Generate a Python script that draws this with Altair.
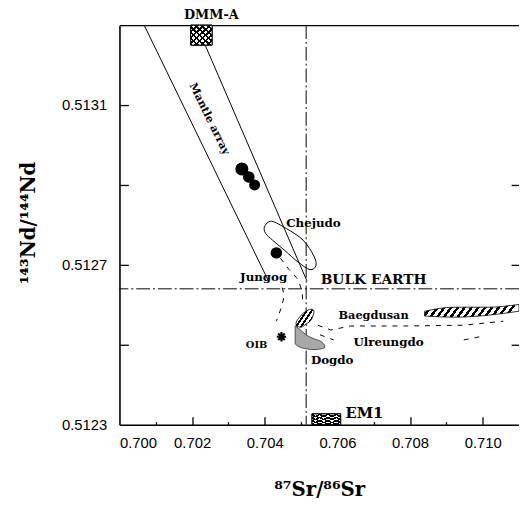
import altair as alt
import pandas as pd

# ---------------- data ----------------
x_label_values = [0.700, 0.702, 0.704, 0.706, 0.708, 0.710]
x_major_ticks = [0.702, 0.704, 0.706, 0.708, 0.710]
x_minor_ticks = [0.701, 0.703, 0.705, 0.707, 0.709]
y_label_values = [0.5123, 0.5127, 0.5131]
y_ticks_left = [0.5125, 0.5127, 0.5129, 0.5131]
y_ticks_right = [0.5125, 0.5127, 0.5129]

# mantle array boundaries
mantle_side = ["left", "left", "right", "right"]
mantle_sr = [0.70068, 0.70410, 0.70236, 0.70516]
mantle_nd = [0.51330, 0.51266, 0.51325, 0.51266]

# bulk earth reference lines
bulk_sr = [0.70514]
bulk_nd = [0.51264]

# filled circles (samples)
circle_sr = [0.70337, 0.70356, 0.70372, 0.70432]
circle_nd = [0.51294, 0.51292, 0.51290, 0.51273]
circle_size = [175, 140, 125, 135]

# Chejudo field outline
chejudo_sr = [0.703995, 0.704185, 0.704592, 0.705054, 0.705353, 0.705408, 0.705245, 0.704918, 0.704538, 0.704212, 0.704022]
chejudo_nd = [0.512796, 0.512809, 0.512791, 0.512762, 0.512722, 0.512698, 0.512688, 0.512707, 0.512737, 0.512762, 0.512779]

# dashed field boundaries
dash_seg = ["a"] * 5 + ["b"] * 4 + ["c"] * 6 + ["d"] * 2 + ["e"] * 2
dash_sr = [0.70443, 0.70467, 0.70492, 0.70503, 0.70505,
           0.70448, 0.70454, 0.70446, 0.70432,
           0.70546, 0.70582, 0.70636, 0.70785, 0.70948, 0.71057,
           0.70552, 0.70590,
           0.70948, 0.71003]
dash_nd = [0.512717, 0.512688, 0.512663, 0.512633, 0.512601,
           0.512643, 0.512623, 0.512594, 0.512559,
           0.512549, 0.512537, 0.512547, 0.512547, 0.512549, 0.512559,
           0.512525, 0.512512,
           0.512512, 0.512522]

# Baegdusan (hatched) small field and long band
baeg_sr = [0.704864, 0.705000, 0.705136, 0.705272, 0.705353]
baeg_top = [0.512557, 0.512574, 0.512584, 0.512589, 0.512586]
baeg_bot = [0.512547, 0.512544, 0.512552, 0.512562, 0.512579]
band_sr = [0.70840, 0.70921, 0.71016, 0.71100]
band_top = [0.512584, 0.512594, 0.512594, 0.512601]
band_bot = [0.512572, 0.512569, 0.512574, 0.512584]

# Ulreungdo / Dogdo (stippled) field
ulr_sr = [0.704837, 0.704946, 0.705136, 0.705353, 0.705571, 0.705652]
ulr_top = [0.512547, 0.512540, 0.512525, 0.512515, 0.512507, 0.512498]
ulr_bot = [0.512502, 0.512495, 0.512490, 0.512488, 0.512490, 0.512493]

# OIB
oib_sr = [0.70446]
oib_nd = [0.51252]

# end-member boxes
box_name = ["DMM-A", "EM1"]
box_sr1 = [0.70196, 0.70530]
box_sr2 = [0.70255, 0.70609]
box_nd1 = [0.51325, 0.51230]
box_nd2 = [0.51330, 0.512327]

# labels
label_text = ["Chejudo", "Jungog", "BULK EARTH", "Baegdusan", "Ulreungdo", "Dogdo", "OIB", "EM1"]
label_sr = [0.70459, 0.70332, 0.70554, 0.70603, 0.70644, 0.70527, 0.70348, 0.70622]
label_nd = [0.512794, 0.512660, 0.512651, 0.512564, 0.512498, 0.512451, 0.512493, 0.512317]
label_fs = [12, 12, 14, 11.5, 12, 12, 10, 15]

top_label = ["DMM-A"]
top_label_sr = [0.70253]
top_label_nd = [0.513315]

array_label = ["Mantle array"]
array_sr = [0.70247]
array_nd = [0.513065]

# ---------------- helpers ----------------
W, H = 405, 405
xscale = alt.Scale(domain=[0.700, 0.711], nice=False, zero=False)
yscale = alt.Scale(domain=[0.5123, 0.5133], nice=False, zero=False)
SERIF = "DejaVu Serif"
SANS = "Liberation Sans"


def X(field, axis=None):
    return alt.X(field, type="quantitative", scale=xscale, axis=axis)


def Y(field, axis=None):
    return alt.Y(field, type="quantitative", scale=yscale, axis=axis)


def hatch(n, x1, y1, x2, y2, gap="white", duty=0.45):
    stops = []
    for i in range(n):
        a = round(i / n, 4)
        b = round((i + duty) / n, 4)
        c = round((i + 1) / n, 4)
        stops += [{"offset": a, "color": "black"}, {"offset": b, "color": "black"},
                  {"offset": b, "color": gap}, {"offset": c, "color": gap}]
    return {"gradient": "linear", "x1": x1, "y1": y1, "x2": x2, "y2": y2, "stops": stops}


tick_common = dict(labels=False, domain=False, grid=False, title=None,
                   tickColor="black", tickWidth=1.3)

ax_bottom = alt.Axis(orient="bottom", values=x_label_values, format=".3f", ticks=False, tickSize=0,
                     domain=True, domainColor="black", domainWidth=1.6, grid=False,
                     labelPadding=11, labelFont=SANS, labelFontSize=15, labelColor="black",
                     title="⁸⁷Sr/⁸⁶Sr", titleFont=SERIF, titleFontSize=20, titleFontWeight="bold",
                     titleColor="black", titleBaseline="alphabetic", titleY=72)
ax_left = alt.Axis(orient="left", values=y_label_values, format=".4f", ticks=False, tickSize=0,
                   domain=True, domainColor="black", domainWidth=1.6, grid=False,
                   labelPadding=13, labelFont=SANS, labelFontSize=15, labelColor="black",
                   title="¹⁴³Nd/¹⁴⁴Nd", titleFont=SERIF, titleFontSize=20, titleFontWeight="bold",
                   titleColor="black", titleAngle=270, titleBaseline="alphabetic",
                   titleAlign="center", titleX=-86, titleY=200)
ax_top_frame = alt.Axis(orient="top", ticks=False, tickSize=0, labels=False, domain=True,
                        domainColor="black", domainWidth=1.4, grid=False, title=None)
ax_xmajor = alt.Axis(orient="top", offset=-H, values=x_major_ticks, tickSize=8, **tick_common)
ax_xminor = alt.Axis(orient="top", offset=-H, values=x_minor_ticks, tickSize=3, **tick_common)
ax_yleft_ticks = alt.Axis(orient="right", offset=-W, values=y_ticks_left, tickSize=9, **tick_common)
ax_yright_ticks = alt.Axis(orient="left", offset=-W, values=y_ticks_right, tickSize=8, **tick_common)

# ---------------- layers ----------------
mantle_df = pd.DataFrame({"side": mantle_side, "sr": mantle_sr, "nd": mantle_nd})
mantle = alt.Chart(mantle_df).mark_line(color="black", strokeWidth=1).encode(
    x=X("sr", ax_bottom), y=Y("nd", ax_left), detail="side:N")

bulk_df = pd.DataFrame({"sr": bulk_sr, "nd": bulk_nd})
vrule = alt.Chart(bulk_df).mark_rule(color="black", strokeWidth=1, strokeDash=[14, 3, 2, 3]).encode(
    x=X("sr", ax_top_frame))
hrule = alt.Chart(bulk_df).mark_rule(color="black", strokeWidth=1, strokeDash=[14, 3, 2, 3]).encode(
    y=Y("nd"))

circ_df = pd.DataFrame({"sr": circle_sr, "nd": circle_nd, "s": circle_size})
circles = alt.Chart(circ_df).mark_circle(color="black", opacity=1).encode(
    x=X("sr", ax_xmajor), y=Y("nd", ax_yleft_ticks), size=alt.Size("s:Q", scale=None, legend=None))

chej_df = pd.DataFrame({"sr": chejudo_sr, "nd": chejudo_nd, "i": list(range(len(chejudo_sr)))})
chejudo = alt.Chart(chej_df).mark_line(color="black", strokeWidth=1, interpolate="cardinal-closed").encode(
    x=X("sr", ax_xminor), y=Y("nd", ax_yright_ticks), order="i:Q")

dash_df = pd.DataFrame({"seg": dash_seg, "sr": dash_sr, "nd": dash_nd, "i": list(range(len(dash_sr)))})
dashed = alt.Chart(dash_df).mark_line(color="black", strokeWidth=1, strokeDash=[5, 6]).encode(
    x=X("sr"), y=Y("nd"), detail="seg:N", order="i:Q")

baeg_df = pd.DataFrame({"sr": baeg_sr, "t": baeg_top, "b": baeg_bot})
baeg = alt.Chart(baeg_df).mark_area(fill=hatch(5, 0, 0, 1, 0.67), stroke="black", strokeWidth=0.8,
                                    interpolate="monotone").encode(
    x=X("sr"), y=Y("t"), y2="b")

band_df = pd.DataFrame({"sr": band_sr, "t": band_top, "b": band_bot})
band = alt.Chart(band_df).mark_area(fill=hatch(14, 0, 0, 1, 0.1), stroke="black", strokeWidth=0.8,
                                    interpolate="monotone", clip=True).encode(
    x=X("sr"), y=Y("t"), y2="b")

ulr_df = pd.DataFrame({"sr": ulr_sr, "t": ulr_top, "b": ulr_bot})
ulr = alt.Chart(ulr_df).mark_area(fill="#a8a8a8", stroke="#333333", strokeWidth=0.8,
                                  interpolate="monotone").encode(
    x=X("sr"), y=Y("t"), y2="b")

oib_df = pd.DataFrame({"sr": oib_sr, "nd": oib_nd})
oib = alt.Chart(oib_df).mark_point(
    shape="M-1,0L1,0M0,-1L0,1M-0.7,-0.7L0.7,0.7M-0.7,0.7L0.7,-0.7",
    filled=False, color="black", strokeWidth=2.2, size=90, opacity=1).encode(
    x=X("sr"), y=Y("nd"))

box_df = pd.DataFrame({"name": box_name, "x1": box_sr1, "x2": box_sr2, "y1": box_nd1, "y2": box_nd2})
box_base = alt.Chart(box_df).mark_rect(fill="white", stroke="black", strokeWidth=1).encode(
    x=X("x1"), x2="x2", y=Y("y1"), y2="y2")
box_h1 = alt.Chart(box_df).mark_rect(fill=hatch(7, 0, 0, 1, 1, gap="white", duty=0.4)).encode(
    x=X("x1"), x2="x2", y=Y("y1"), y2="y2")
box_h2 = alt.Chart(box_df).mark_rect(fill=hatch(7, 0, 1, 1, 0, gap="rgba(255,255,255,0)", duty=0.4),
                                     stroke="black", strokeWidth=1).encode(
    x=X("x1"), x2="x2", y=Y("y1"), y2="y2")

lab_df = pd.DataFrame({"t": label_text, "sr": label_sr, "nd": label_nd, "fs": label_fs})
labels = alt.Chart(lab_df).mark_text(font=SERIF, fontWeight="bold", align="left",
                                     baseline="alphabetic", color="black").encode(
    x=X("sr"), y=Y("nd"), text="t:N", size=alt.Size("fs:Q", scale=None, legend=None))

top_df = pd.DataFrame({"t": top_label, "sr": top_label_sr, "nd": top_label_nd})
top_lab = alt.Chart(top_df).mark_text(font=SERIF, fontWeight="bold", align="center",
                                      baseline="alphabetic", fontSize=13, color="black").encode(
    x=X("sr"), y=Y("nd"), text="t:N")

arr_df = pd.DataFrame({"t": array_label, "sr": array_sr, "nd": array_nd})
arr_lab = alt.Chart(arr_df).mark_text(font=SERIF, fontWeight="bold", align="center",
                                      baseline="middle", fontSize=11, angle=64, color="black").encode(
    x=X("sr"), y=Y("nd"), text="t:N")

chart = alt.layer(
    mantle, circles, chejudo, vrule, hrule, dashed, baeg, band, ulr, oib,
    box_base, box_h1, box_h2, labels, top_lab, arr_lab
).resolve_axis(x="independent", y="independent").properties(
    width=W, height=H, autosize="none",
    padding={"left": 113, "top": 14, "right": 0, "bottom": 75},
).configure_view(stroke=None).configure(background="white")

chart.save("out.html", embed_options={"renderer": "svg", "actions": False})
